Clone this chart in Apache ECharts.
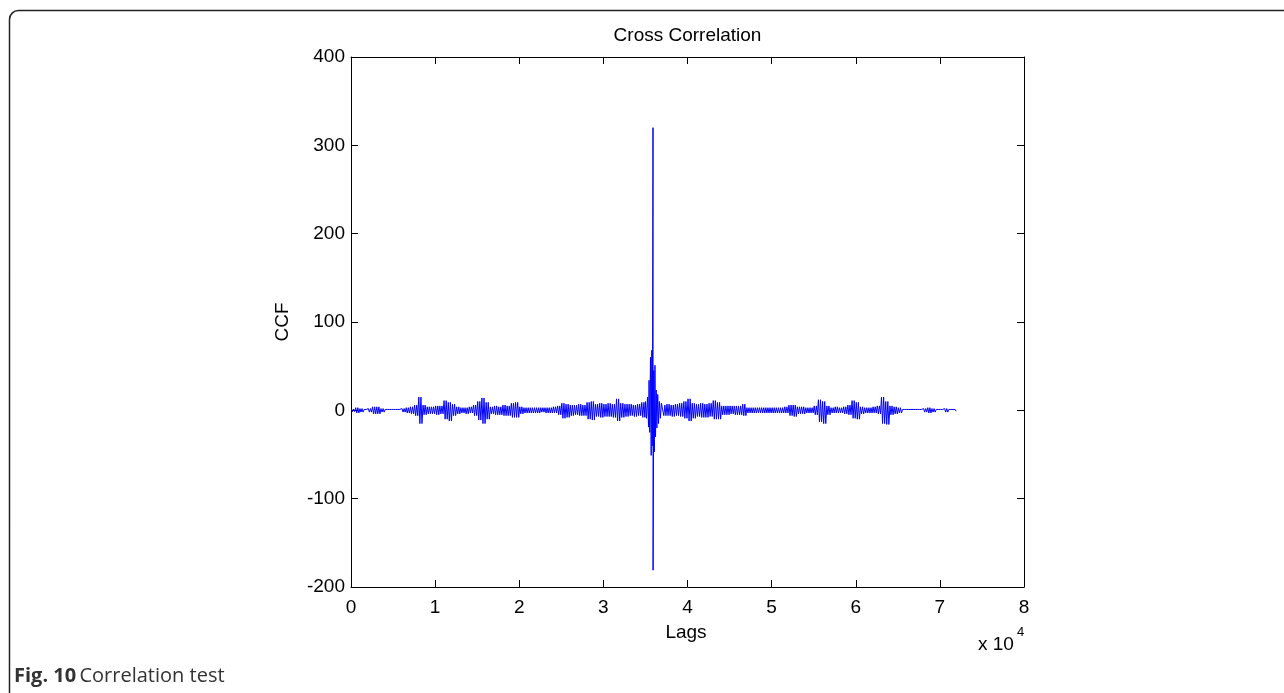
<!DOCTYPE html>
<html>
<head>
<meta charset="utf-8">
<script src="https://cdn.jsdelivr.net/npm/echarts@6/dist/echarts.min.js"></script>
<style>
html,body{margin:0;padding:0;background:#fff;}
#chart{width:1284px;height:693px;}
</style>
</head>
<body>
<div id="chart"></div>
<script>
// ---- data ----
const BIN = 500; // lag width of each envelope bin
const xTicks = [0, 10000, 20000, 30000, 40000, 50000, 60000, 70000, 80000];
const yTicks = [-200, -100, 0, 100, 200, 300, 400];
// upper / lower extremes of the CCF inside each 500-lag bin (null = central burst, listed separately)
const upper = [1.5,3,2,1,2,4,4,2,1,1, 1,1,2,3,4,6,15,6,4,4, 5,5,11,9,7,4,3,3,4,6,
  10,14,9,4,5,4,6,5,8,9, 4,3,3,3,3,3,3,3,4,5, 8,7,6,6,7,6,9,10,7,8,
  7,8,7,13,8,7,7,6,7,9, null,null,null,null,6,7,6,7,8,10,
  13,8,7,8,7,8,11,9,5,5, 5,5,5,7,3,3,3,3,3,3, 3,3,3,4,6,6,4,4,3,3,
  5,12,10,5,3,4,3,4,6,11, 9,4,3,3,4,5,15,10,5,4, 3,1,1,1,1,1,2,3,2,1, 1,2,1,1];
const lower = [-1.5,-3,-2,-1,-2,-4,-4,-2,-1,-1, -1,-1,-2,-3,-4,-6,-15,-5,-4,-4, -5,-4,-10,-12,-6,-4,-3,-4,-3,-6,
  -11,-15,-10,-4,-5,-5,-6,-6,-8,-8, -4,-3,-3,-3,-3,-2,-3,-3,-3,-5, -9,-8,-6,-5,-6,-6,-10,-11,-7,-8,
  -7,-7,-8,-12,-8,-7,-6,-7,-6,-8, null,null,null,null,-6,-6,-7,-6,-7,-9,
  -12,-9,-7,-8,-8,-7,-10,-10,-5,-5, -4,-5,-5,-6,-3,-3,-3,-3,-3,-3, -3,-3,-3,-3,-6,-7,-4,-4,-3,-3,
  -5,-13,-15,-5,-3,-3,-3,-4,-5,-9, -10,-4,-3,-3,-3,-4,-15,-16,-5,-4, -3,-1,-1,-1,-1,-1,-2,-3,-2,-1, -1,-2,-1,-1];
// central burst around zero lag (lag, value)
const burstLags = [35010,35130,35250,35370,35430,35510,35600,35680,35760,35830,35900,35910,35990,36060,36130,36200,36280,36360,36460,36560,36660,36780,36900];
const burstVals = [10,-9,15,-19,34,-25,60,-51,68,-40,320,-181,45,-47,51,-30,23,-20,18,-15,10,-9,8];

// ---- build the line: the signal swings between each bin's extremes ----
const SWINGS = [0.125, 0.375, 0.625, 0.875]; // positions within a bin: peak, trough, peak, trough
const lineData = [];
let burstDone = false;
for (let i = 0; i < upper.length; i++) {
  if (upper[i] === null) {
    if (!burstDone) {
      for (let k = 0; k < burstLags.length; k++) lineData.push([burstLags[k], burstVals[k]]);
      burstDone = true;
    }
    continue;
  }
  SWINGS.forEach((f, j) => lineData.push([i * BIN + BIN * f, j % 2 === 0 ? upper[i] : lower[i]]));
}

const FF = "'Liberation Sans', Arial, Helvetica, sans-serif";
const chart = echarts.init(document.getElementById('chart'), null, {renderer: 'canvas'});

const axisCommon = {
  type: 'value',
  axisLine: {show: true, onZero: false, lineStyle: {color: '#000', width: 1}},
  axisTick: {show: true, inside: true, length: 7, lineStyle: {color: '#000', width: 1}},
  splitLine: {show: false}
};

chart.setOption({
  animation: false,
  backgroundColor: '#fff',
  grid: {left: 351, right: 260, top: 57, bottom: 106, containLabel: false},
  xAxis: [
    Object.assign({}, axisCommon, {
      position: 'bottom', min: xTicks[0], max: xTicks[xTicks.length - 1], interval: 10000,
      axisLabel: {formatter: v => String(v / 10000), fontSize: 19, color: '#000', margin: 11, fontFamily: FF}
    }),
    Object.assign({}, axisCommon, {
      position: 'top', min: xTicks[0], max: xTicks[xTicks.length - 1], interval: 10000,
      axisLabel: {show: false}
    })
  ],
  yAxis: [
    Object.assign({}, axisCommon, {
      position: 'left', min: yTicks[0], max: yTicks[yTicks.length - 1], interval: 100,
      axisLabel: {fontSize: 19, color: '#000', margin: 6, fontFamily: FF}
    }),
    Object.assign({}, axisCommon, {
      position: 'right', min: yTicks[0], max: yTicks[yTicks.length - 1], interval: 100,
      axisLabel: {show: false}
    })
  ],
  series: [{
    type: 'line',
    data: lineData,
    xAxisIndex: 0, yAxisIndex: 0,
    showSymbol: false,
    symbol: 'none',
    lineStyle: {color: '#0000ff', width: 1},
    silent: true
  }],
  graphic: [
    {type: 'rect', shape: {x: 9.5, y: 10.5, width: 1300, height: 720, r: 9},
     style: {fill: 'none', stroke: '#222', lineWidth: 1.5}, z: -10, silent: true},
    {type: 'text', x: 687.5, y: 36, style: {text: 'Cross Correlation', fontSize: 19, fontFamily: FF, fill: '#000', textAlign: 'center', textVerticalAlign: 'middle'}},
    {type: 'text', x: 283, y: 322, rotation: Math.PI / 2, style: {text: 'CCF', fontSize: 19, fontFamily: FF, fill: '#000', textAlign: 'center', textVerticalAlign: 'middle'}},
    {type: 'text', x: 686, y: 633, style: {text: 'Lags', fontSize: 19, fontFamily: FF, fill: '#000', textAlign: 'center', textVerticalAlign: 'middle'}},
    {type: 'text', x: 978, y: 645, style: {text: 'x 10', fontSize: 19, fontFamily: FF, fill: '#000', textAlign: 'left', textVerticalAlign: 'middle'}},
    {type: 'text', x: 1017, y: 632, style: {text: '4', fontSize: 13, fontFamily: FF, fill: '#000', textAlign: 'left', textVerticalAlign: 'middle'}},
    {type: 'text', x: 14, y: 676, style: {
      text: '{b|Fig. 10} {n|Correlation test}', textAlign: 'left', textVerticalAlign: 'middle',
      rich: {
        b: {fontSize: 20, fontWeight: 'bold', fontFamily: "'Open Sans', 'Noto Sans', sans-serif", fill: '#333'},
        n: {fontSize: 20, fontFamily: "'Open Sans', 'Noto Sans', sans-serif", fill: '#333'}
      }}}
  ]
});
</script>
</body>
</html>
